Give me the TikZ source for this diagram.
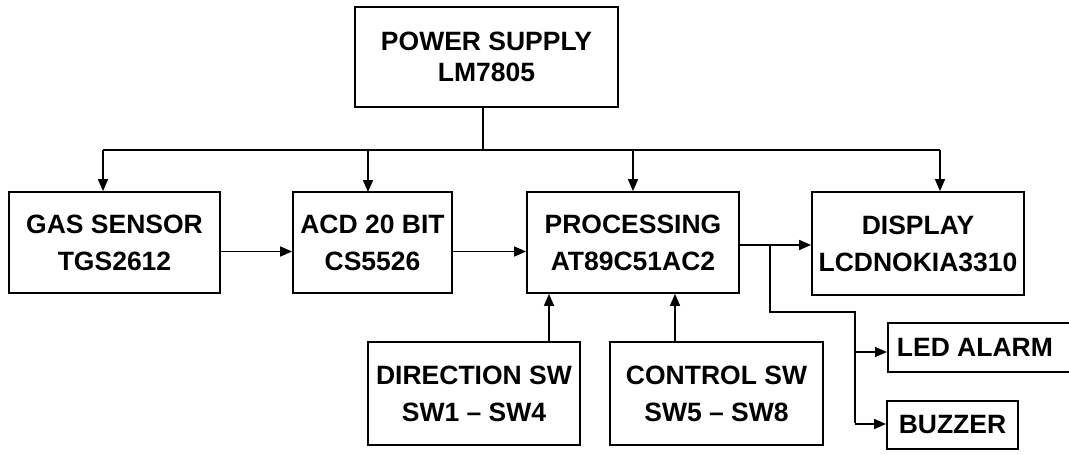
\documentclass[tikz,border=0pt]{standalone}
\usepackage{fontspec}
\setmainfont{Liberation Sans}
\usetikzlibrary{arrows.meta}
\begin{document}
\begin{tikzpicture}[x=1pt,y=-1pt,
  blk/.style={draw,line width=1.8pt,inner sep=0pt,align=center,
    font=\fontsize{26.5}{37}\selectfont\bfseries},
  wire/.style={line width=1.6pt},
  arr/.style={wire,-{Triangle[length=12pt,width=10pt]}}]
\useasboundingbox (0,0) rectangle (1069,455);
\fill[white] (0,0) rectangle (1069,455);
% blocks
\node[blk,minimum width=263pt,minimum height=100pt,font=\fontsize{26.5}{31}\selectfont\bfseries] (ps) at (486.5,57) {POWER SUPPLY\\LM7805};
\node[blk,minimum width=211pt,minimum height=101pt] (gas) at (114.5,242.5) {GAS SENSOR\\TGS2612};
\node[blk,minimum width=159pt,minimum height=101pt] (acd) at (372.5,242.5) {ACD 20 BIT\\CS5526};
\node[blk,minimum width=212pt,minimum height=101pt] (proc) at (633,242.5) {PROCESSING\\AT89C51AC2};
\node[blk,minimum width=212pt,minimum height=103pt] (disp) at (918,243.5) {DISPLAY\\LCDNOKIA3310};
\node[blk,minimum width=212pt,minimum height=103pt] (dir) at (474,393.5) {DIRECTION SW\\SW1 -- SW4};
\node[blk,minimum width=213pt,minimum height=103pt] (ctrl) at (716.5,393.5) {CONTROL SW\\SW5 -- SW8};
\node[blk,minimum width=186pt,minimum height=49pt,anchor=west] (led) at (887,347.5) {\hspace*{-12pt}LED ALARM};
\node[blk,minimum width=131pt,minimum height=48pt] (buz) at (952.5,425) {BUZZER};
% power bus
\coordinate (b) at (483,150);
\coordinate (bl) at (103,150);
\coordinate (br) at (940,150);
\draw[wire] (ps.south -| b) -- (b);
\draw[wire] (bl) -- (br);
\draw[arr] (bl) -- (bl |- gas.north);
\draw[arr] (368,150) -- (368,192);
\draw[arr] (633,150) -- (proc.north);
\draw[arr] (br) -- (br |- disp.north);
% signal chain
\draw[arr] ([yshift=-9pt]gas.east) -- ([yshift=-9pt]gas.east -| acd.west);
\draw[arr] ([yshift=-9pt]acd.east) -- ([yshift=-9pt]acd.east -| proc.west);
\draw[arr] ([yshift=-2.5pt]proc.east) -- ([yshift=-2.5pt]proc.east -| disp.west);
% switches
\draw[arr] ([xshift=75pt]dir.north) -- ([xshift=75pt]dir.north |- proc.south);
\draw[arr] ([xshift=-41.5pt]ctrl.north) -- ([xshift=-41.5pt]ctrl.north |- proc.south);
% outputs
\coordinate (j) at (770,245);
\coordinate (k) at (855,312);
\draw[wire] (j) -- (770,312) -- (k) -- (855,423);
\draw[arr] (855,352) -- (led.west |- 855,352);
\draw[arr] (855,424) -- (buz.west |- 855,424);
\end{tikzpicture}
\end{document}
